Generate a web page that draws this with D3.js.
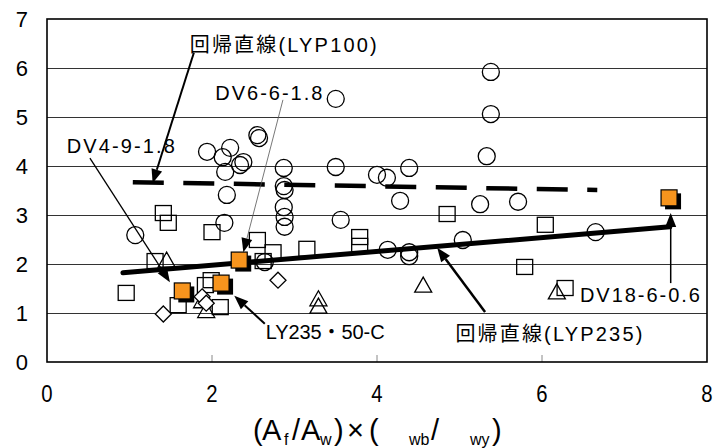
<!DOCTYPE html>
<html>
<head>
<meta charset="utf-8">
<script src="https://d3js.org/d3.v7.min.js"></script>
<style>
  body { margin: 0; background: #fff; }
  svg { display: block; }
  text { font-family: "Liberation Sans", Arial, sans-serif; fill: #000; }
  .jp { font-family: "Liberation Sans", "Noto Sans CJK JP", sans-serif; }
</style>
</head>
<body>
<div id="chart"></div>
<script>
// values
var xTicks = [0, 2, 4, 6, 8];
var yTicks = [0, 1, 2, 3, 4, 5, 6, 7];

var circlePts = [
  [1.07, 2.59], [1.94, 4.29], [2.22, 4.37], [2.13, 4.18], [2.34, 4.02], [2.38, 4.08],
  [2.16, 3.88], [2.18, 3.41], [2.15, 2.84], [2.55, 4.63], [2.57, 4.57], [2.87, 3.96],
  [2.87, 3.59], [2.88, 3.51], [2.87, 3.16], [2.88, 2.96], [2.88, 2.76], [3.50, 5.37],
  [3.50, 3.98], [3.56, 2.90], [4.00, 3.82], [4.12, 3.76], [4.39, 3.96], [4.28, 3.29],
  [5.38, 5.92], [5.38, 5.06], [5.33, 4.20], [5.25, 3.22], [5.71, 3.27], [5.04, 2.49],
  [4.13, 2.29], [4.39, 2.24], [4.39, 2.16], [2.64, 2.04], [6.65, 2.65]
];
var squarePts = [
  [1.41, 3.04], [1.47, 2.84], [2.00, 2.65], [0.96, 1.41], [1.31, 2.06], [2.55, 2.49],
  [2.74, 2.24], [3.15, 2.31], [3.79, 2.55], [3.79, 2.37], [4.85, 3.02], [6.04, 2.80],
  [5.79, 1.94], [6.28, 1.51], [1.92, 1.57], [1.99, 1.67], [1.59, 1.16], [2.10, 1.12],
  [2.62, 2.06]
];
var trianglePts = [
  [1.45, 2.08], [1.93, 1.05], [1.88, 1.25], [3.29, 1.29], [3.29, 1.14], [4.56, 1.57], [6.18, 1.43]
];
var diamondPts = [[1.41, 0.98], [1.88, 1.33], [1.93, 1.20], [2.80, 1.67]];
var orangePts = [[1.64, 1.45], [2.11, 1.61], [2.33, 2.08], [7.54, 3.35]];

var fitLYP235 = [[0.92, 1.82], [7.55, 2.76]];
var fitLYP100 = [[1.04, 3.67], [6.67, 3.51]];

// annotations: text, left/baseline in data units, width in px
var labels = [
  { t: "回帰直線(LYP100)", x: 1.73, y: 6.33, w: 187 },
  { t: "DV6-6-1.8", x: 2.04, y: 5.35, w: 107 },
  { t: "DV4-9-1.8", x: 0.24, y: 4.27, w: 108 },
  { t: "LY235・50-C", x: 2.65, y: 0.47, w: 119 },
  { t: "回帰直線(LYP235)", x: 4.95, y: 0.43, w: 187 },
  { t: "DV18-6-0.6", x: 6.46, y: 1.22, w: 120 }
];
var arrows = [
  { from: [1.78, 6.31], to: [1.28, 3.65], w: 2 },
  { from: [2.86, 5.35], to: [2.38, 2.24], w: 0.8 },
  { from: [0.52, 4.16], to: [1.49, 1.63], w: 1.3 },
  { from: [2.64, 0.78], to: [2.27, 1.35], w: 2 },
  { from: [5.31, 1.02], to: [4.73, 2.33], w: 2.5 },
  { from: [7.56, 1.61], to: [7.56, 3.04], w: 1.5 }
];

var W = 714, H = 448;
var svg = d3.select("#chart").append("svg").attr("width", W).attr("height", H);
var x = d3.scaleLinear().domain([0, 8]).range([47, 707]);
var y = d3.scaleLinear().domain([0, 7]).range([362, 19]);

// grid
svg.append("g").selectAll("line").data(yTicks.slice(1, -1)).enter().append("line")
  .attr("x1", x(0)).attr("x2", x(8))
  .attr("y1", function (d) { return Math.round(y(d)) + 0.5; })
  .attr("y2", function (d) { return Math.round(y(d)) + 0.5; })
  .style("stroke", "#333").style("stroke-width", 1);

// x ticks inside
svg.append("g").selectAll("line").data(xTicks.slice(1, -1)).enter().append("line")
  .attr("x1", function (d) { return x(d); }).attr("x2", function (d) { return x(d); })
  .attr("y1", y(0)).attr("y2", y(0) - 7)
  .style("stroke", "#888").style("stroke-width", 1);

// frame
svg.append("rect").attr("x", x(0)).attr("y", y(7))
  .attr("width", x(8) - x(0)).attr("height", y(0) - y(7))
  .style("fill", "none").style("stroke", "#000").style("stroke-width", 1.6);

// tick labels
svg.append("g").selectAll("text").data(yTicks).enter().append("text")
  .attr("x", 28).attr("y", function (d) { return y(d) + 8; })
  .attr("text-anchor", "end").style("font-size", "22px")
  .text(function (d) { return d; });

svg.append("g").selectAll("text").data(xTicks).enter().append("text")
  .attr("transform", function (d) { return "translate(" + x(d) + ",402) scale(0.83,1)"; })
  .attr("text-anchor", "middle").style("font-size", "24.5px")
  .text(function (d) { return d; });

// x title (sigma glyphs are blank in the original)
var title = svg.append("text").attr("y", 440).style("font-size", "29px");
[
  ["(", 253, 0], ["A", 262, 0], ["f", 284, 1], ["/", 292, 0], ["A", 301, 0], ["w", 320, 1],
  [")", 334, 0], ["×", 347, 0], ["(", 369, 0], ["wb", 409, 1], ["/", 431, 0], ["wy", 470, 1], [")", 492, 0]
].forEach(function (p) {
  title.append("tspan").attr("x", p[1]).attr("y", p[2] ? 445 : 440)
    .style("font-size", p[2] ? "16px" : "29px").text(p[0]);
});

// regression lines
var line = d3.line().x(function (d) { return x(d[0]); }).y(function (d) { return y(d[1]); });
svg.append("path").attr("d", line(fitLYP100))
  .style("fill", "none").style("stroke", "#000").style("stroke-width", 4.5)
  .style("stroke-dasharray", "31,19.5");
svg.append("path").attr("d", line(fitLYP235))
  .style("fill", "none").style("stroke", "#000").style("stroke-width", 5)
  .style("stroke-linecap", "round");

// markers
var mk = svg.append("g").style("fill", "#fff").style("stroke", "#000").style("stroke-width", 1.3);
function pos(d) { return "translate(" + x(d[0]) + "," + y(d[1]) + ")"; }

mk.selectAll("circle").data(circlePts).enter().append("circle")
  .attr("cx", function (d) { return x(d[0]); }).attr("cy", function (d) { return y(d[1]); })
  .attr("r", 8.5).style("fill", "none");

mk.selectAll("rect.sq").data(squarePts).enter().append("rect").attr("class", "sq")
  .attr("x", function (d) { return x(d[0]) - 8; }).attr("y", function (d) { return y(d[1]) - 7.5; })
  .attr("width", 16).attr("height", 15).style("fill", "none");

mk.selectAll("path.tri").data(trianglePts).enter().append("path").attr("class", "tri")
  .attr("transform", pos).attr("d", "M0,-8L8.5,7L-8.5,7Z").style("fill", "none");

mk.selectAll("path.dia").data(diamondPts).enter().append("path").attr("class", "dia")
  .attr("transform", pos).attr("d", "M0,-8L8,0L0,8L-8,0Z").style("fill", "#fff");

var og = svg.append("g");
og.selectAll("rect.sh").data(orangePts).enter().append("rect").attr("class", "sh")
  .attr("x", function (d) { return x(d[0]) - 4; }).attr("y", function (d) { return y(d[1]) - 4.5; })
  .attr("width", 16).attr("height", 16).style("fill", "#000");
og.selectAll("rect.or").data(orangePts).enter().append("rect").attr("class", "or")
  .attr("x", function (d) { return x(d[0]) - 8; }).attr("y", function (d) { return y(d[1]) - 8; })
  .attr("width", 16).attr("height", 16)
  .style("fill", "#f7941d").style("stroke", "#000").style("stroke-width", 1.2);

// arrows
arrows.forEach(function (a) {
  var x1 = x(a.from[0]), y1 = y(a.from[1]), x2 = x(a.to[0]), y2 = y(a.to[1]);
  var ang = Math.atan2(y2 - y1, x2 - x1), L = 14, hw = 5.5;
  var bx = x2 - L * Math.cos(ang), by = y2 - L * Math.sin(ang);
  svg.append("line").attr("x1", x1).attr("y1", y1).attr("x2", bx).attr("y2", by)
    .style("stroke", a.w < 1 ? "#555" : "#000").style("stroke-width", a.w);
  var px = -Math.sin(ang) * hw, py = Math.cos(ang) * hw;
  svg.append("path")
    .attr("d", "M" + x2 + "," + y2 + "L" + (bx + px) + "," + (by + py) + "L" + (bx - px) + "," + (by - py) + "Z")
    .style("fill", "#000");
});

// labels
svg.append("g").selectAll("text").data(labels).enter().append("text").attr("class", "jp")
  .attr("x", function (d) { return x(d.x); }).attr("y", function (d) { return y(d.y); })
  .attr("textLength", function (d) { return d.w; }).attr("lengthAdjust", "spacing")
  .style("font-size", "20px")
  .text(function (d) { return d.t; });
</script>
</body>
</html>
